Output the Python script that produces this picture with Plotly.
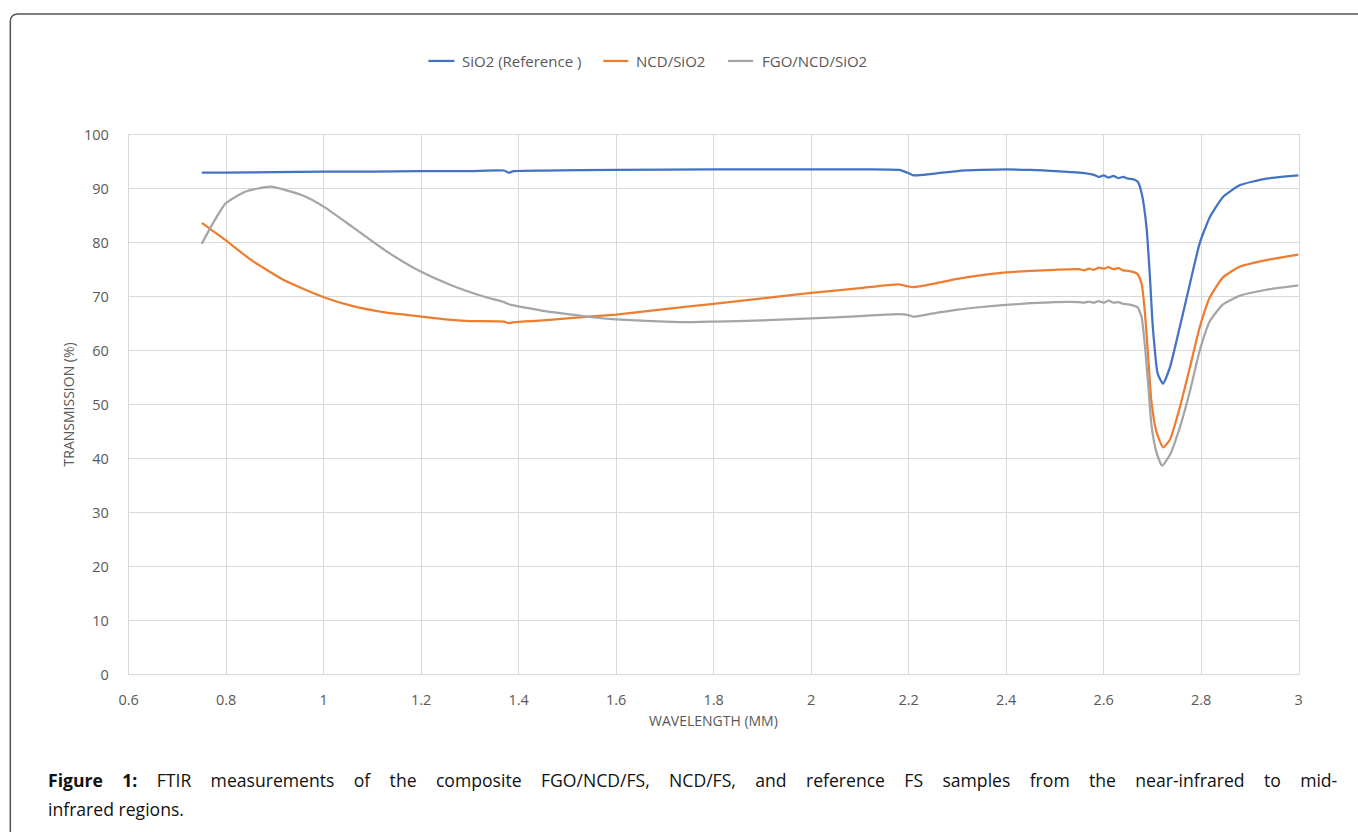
import plotly.graph_objects as go

# ---- data ----
sio2_w = [0.75, 0.8, 0.9, 1.0, 1.1, 1.2, 1.3, 1.37, 1.38, 1.39, 1.45, 1.6, 1.8, 2.0, 2.1, 2.18, 2.2, 2.21,
          2.23, 2.26, 2.3, 2.35, 2.4, 2.45, 2.5, 2.55, 2.58, 2.59, 2.60, 2.61, 2.62, 2.63, 2.64, 2.65, 2.66,
          2.67, 2.678, 2.688, 2.695, 2.701, 2.711, 2.722, 2.736, 2.756, 2.777, 2.797, 2.818, 2.845, 2.88,
          2.934, 3.0]
sio2_t = [93.0, 93.0, 93.1, 93.2, 93.2, 93.3, 93.3, 93.4, 93.0, 93.3, 93.4, 93.5, 93.6, 93.6, 93.6, 93.5, 92.9,
          92.5, 92.6, 92.9, 93.3, 93.5, 93.6, 93.5, 93.3, 93.0, 92.6, 92.2, 92.5, 92.1, 92.4, 92.0, 92.2, 91.9,
          91.8, 91.3, 89.2, 82.9, 73.6, 64.3, 55.7, 53.9, 56.9, 64.3, 72.4, 79.9, 84.8, 88.5, 90.7, 91.9, 92.5]

ncd_w = [0.75, 0.8, 0.853, 0.92, 1.0, 1.058, 1.126, 1.194, 1.25, 1.3, 1.37, 1.38, 1.39, 1.45, 1.5, 1.6, 1.7,
         1.8, 1.9, 2.0, 2.1, 2.18, 2.2, 2.21, 2.25, 2.3, 2.35, 2.4, 2.45, 2.5, 2.55, 2.56, 2.57, 2.58, 2.59,
         2.60, 2.61, 2.62, 2.63, 2.64, 2.65, 2.66, 2.67, 2.678, 2.685, 2.692, 2.698, 2.708, 2.722, 2.736,
         2.756, 2.777, 2.797, 2.818, 2.845, 2.88, 2.934, 3.0]
ncd_t = [83.7, 80.4, 76.7, 73.0, 69.9, 68.3, 67.1, 66.4, 65.8, 65.5, 65.4, 65.1, 65.3, 65.6, 66.0, 66.7, 67.7,
         68.7, 69.7, 70.7, 71.6, 72.3, 71.9, 71.8, 72.4, 73.3, 74.0, 74.5, 74.8, 75.0, 75.1, 74.9, 75.2, 75.0,
         75.4, 75.2, 75.5, 75.1, 75.3, 74.9, 74.8, 74.6, 74.2, 72.4, 66.8, 58.1, 50.6, 45.1, 42.1, 43.5, 49.4,
         56.9, 64.3, 69.9, 73.6, 75.6, 76.8, 77.8]

fgo_w = [0.75, 0.772, 0.799, 0.84, 0.891, 0.956, 1.0, 1.058, 1.126, 1.194, 1.263, 1.33, 1.37, 1.38, 1.39, 1.45,
         1.5, 1.55, 1.6, 1.7, 1.75, 1.8, 1.9, 2.0, 2.1, 2.18, 2.2, 2.21, 2.25, 2.3, 2.35, 2.4, 2.45, 2.5, 2.55,
         2.56, 2.57, 2.58, 2.59, 2.60, 2.61, 2.62, 2.63, 2.64, 2.65, 2.66, 2.67, 2.678, 2.685, 2.692, 2.698,
         2.708, 2.72, 2.736, 2.756, 2.777, 2.797, 2.818, 2.845, 2.88, 2.934, 3.0]
fgo_t = [79.8, 83.5, 87.3, 89.5, 90.4, 88.8, 86.7, 83.0, 78.6, 74.9, 72.1, 70.0, 69.0, 68.6, 68.4, 67.4, 66.8,
         66.2, 65.8, 65.4, 65.3, 65.4, 65.6, 66.0, 66.4, 66.8, 66.6, 66.3, 66.9, 67.6, 68.1, 68.5, 68.8, 69.0,
         69.0, 68.9, 69.1, 68.9, 69.2, 68.9, 69.3, 68.9, 69.0, 68.7, 68.6, 68.4, 68.0, 66.2, 60.6, 53.1, 46.3,
         41.3, 38.7, 40.7, 45.7, 52.5, 60.0, 65.5, 68.6, 70.2, 71.3, 72.1]

series_names = ["SiO2 (Reference )", "NCD/SiO2", "FGO/NCD/SiO2"]
series_colors = ["#4472C4", "#ED7D31", "#A5A5A5"]

x_ticks = [0.6, 0.8, 1, 1.2, 1.4, 1.6, 1.8, 2, 2.2, 2.4, 2.6, 2.8, 3]
y_ticks = [0, 10, 20, 30, 40, 50, 60, 70, 80, 90, 100]

x_title = "WAVELENGTH (MM)"
y_title = "TRANSMISSION (%)"
caption_1_words = ["<b>Figure", "1:</b>", "FTIR", "measurements", "of", "the", "composite", "FGO/NCD/FS,",
                   "NCD/FS,", "and", "reference", "FS", "samples", "from", "the", "near-infrared", "to", "mid-"]
caption_2 = "infrared regions."

# ---- geometry: target positions (screenshot px) mapped to figure px ----
W, H = 1358, 832
SX, OXS = 0.9906, 9.2
SY, OYS = 0.978, 9.0


def px(t):
    return ((t - OXS) / SX) / W


def py(t):
    return 1 - ((t - OYS) / SY) / H


L, R, T, B = 128, 1299, 134, 674

fig = go.Figure()
for xs, ys, nm, col in zip([sio2_w, ncd_w, fgo_w], [sio2_t, ncd_t, fgo_t], series_names, series_colors):
    fig.add_trace(go.Scatter(x=xs, y=ys, name=nm, mode="lines", showlegend=False,
                             line=dict(color=col, width=2.25, shape="spline", smoothing=0.5)))

grid = "#D9D9D9"
tickfont = dict(family="Open Sans", size=14.5, color="#595959")
fig.update_layout(
    width=W, height=H,
    margin=dict(l=0, r=0, t=0, b=0),
    paper_bgcolor="white", plot_bgcolor="white",
    showlegend=False,
    xaxis=dict(domain=[px(L), px(R)], range=[0.6, 3], tickvals=x_ticks,
               ticktext=[f"{v:g}" for v in x_ticks], showgrid=True, gridcolor=grid, gridwidth=1,
               zeroline=False, showline=True, linecolor=grid, mirror=True, ticks="",
               tickfont=tickfont, ticklabelstandoff=12),
    yaxis=dict(domain=[py(B), py(T)], range=[0, 100], tickvals=y_ticks, showgrid=True,
               gridcolor=grid, gridwidth=1, zeroline=False, showline=True, linecolor=grid, mirror=True,
               ticks="", tickfont=tickfont, ticklabelstandoff=16),
)

# legend (drawn as line samples + labels, Excel style spacing)
leg_y = 60
leg_lines = [(428, 454), (603, 628), (728, 753)]
leg_text_x = [460, 634, 760]
leg_font = dict(family="Open Sans", size=15, color="#595959")
for (a, b), tx, nm, col in zip(leg_lines, leg_text_x, series_names, series_colors):
    fig.add_shape(type="line", xref="paper", yref="paper", x0=px(a), x1=px(b), y0=py(leg_y), y1=py(leg_y),
                  line=dict(color=col, width=2.25))
    fig.add_annotation(text=nm, x=px(tx), y=py(leg_y), xref="paper", yref="paper", showarrow=False,
                       font=leg_font, xanchor="left", yanchor="middle")

ann_font = dict(family="Open Sans", size=14, color="#595959")
fig.add_annotation(text=x_title, x=px((L + R) / 2), y=py(720), xref="paper", yref="paper",
                   showarrow=False, font=ann_font, xanchor="center", yanchor="middle")
fig.add_annotation(text=y_title, x=px(68), y=py((T + B) / 2), xref="paper", yref="paper",
                   showarrow=False, font=ann_font, textangle=-90, xanchor="center", yanchor="middle")

# caption (justified first line emulated with wider word gaps)
cap_font = dict(family="Open Sans", size=17.6, color="#111111")
fig.add_annotation(text="\u2003\u200a".join(caption_1_words), x=px(45), y=py(780), xref="paper", yref="paper",
                   showarrow=False, font=cap_font, xanchor="left", yanchor="middle", align="left")
fig.add_annotation(text=caption_2, x=px(45), y=py(809), xref="paper", yref="paper",
                   showarrow=False, font=cap_font, xanchor="left", yanchor="middle", align="left")

# rounded frame (top-left corner visible, running off right and bottom edges)
x0, yt = px(9.5), py(13)
rx, ry = 8 / W, 8 / H
fig.add_shape(type="path", xref="paper", yref="paper",
              path=f"M {x0},-0.05 L {x0},{yt - ry} Q {x0},{yt} {x0 + rx},{yt} L 1.05,{yt}",
              line=dict(color="#555555", width=1.5))

fig.write_html("out.html", config={"displayModeBar": False},
               post_script="document.body.style.margin='0';document.body.style.overflow='hidden';")
